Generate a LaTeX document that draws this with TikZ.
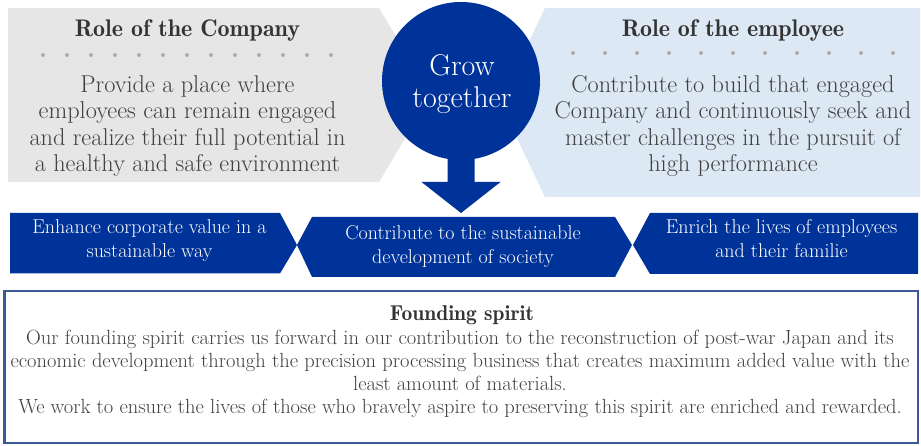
\documentclass[tikz,border=0pt]{standalone}
\usetikzlibrary{arrows.meta, positioning, calc}

\definecolor{growblue}{RGB}{0,51,153}
\definecolor{rolegray}{RGB}{230,230,230}
\definecolor{rolelblue}{RGB}{221,232,245}
\definecolor{dotgray}{RGB}{178,172,172}
\definecolor{textgray}{RGB}{64,64,64}
\definecolor{titlegray}{RGB}{51,51,51}
\definecolor{framecol}{RGB}{59,89,150}

\begin{document}
\begin{tikzpicture}[x=1pt, y=-1pt,
		roletitle/.style={anchor=base, inner sep=0pt, text=titlegray, font=\fontseries{b}\fontsize{24}{28}\selectfont},
		rolebody/.style={inner sep=0pt, align=center, text=textgray, font=\fontsize{24.3}{26.3}\selectfont},
		bandtext/.style={inner sep=0pt, align=center, text=white, font=\fontsize{20}{24}\selectfont},
		growcircle/.style={circle, fill=growblue, minimum size=158pt, inner sep=0pt},
		spirittext/.style={inner sep=0pt, align=center, text=textgray, font=\fontsize{20.5}{23}\selectfont}]
		
		\useasboundingbox (0,0) rectangle (921,446);
		
		% role panels
		\fill[rolegray] (8,8) -- (379,8) -- (431,95) -- (379,182) -- (8,182) -- cycle;
		\fill[rolelblue] (920,8) -- (545,8) -- (500,102.5) -- (545,197) -- (920,197) -- cycle;
		\foreach \i in {0,...,12} \fill[dotgray] (43+24*\i,55) circle[radius=2pt];
		\foreach \i in {0,...,10} \fill[dotgray] (573+32*\i,53) circle[radius=2pt];
		
		\node[roletitle] (companytitle) at (187.5,37) {Role of the Company};
		\node[rolebody] (companytext) at (187.5,126) {Provide a place where\\employees can remain engaged\\and realize their full potential in\\a healthy and safe environment};
		\node[roletitle] (employeetitle) at (733,37) {Role of the employee};
		\node[rolebody] (employeetext) at (733,126) {Contribute to build that engaged\\Company and continuously seek and\\master challenges in the pursuit of\\high performance};
		
		% grow together
		\node[growcircle] (grow) at (461,81) {};
		\node[inner sep=0pt, align=center, text=white, font=\fontsize{30}{32}\selectfont] (growtext) at (462,84) {Grow\\together};
		\coordinate (headtop) at (461,182);
		\coordinate (societytop) at (461,213);
		\fill[growblue] ($(grow.south)+(-13.5,-3)$) -- ($(headtop)+(-13.5,0)$) -- ($(headtop)+(-39.5,0)$) -- (societytop)
			-- ($(headtop)+(39.5,0)$) -- ($(headtop)+(13.5,0)$) -- ($(grow.south)+(13.5,-3)$) -- cycle;
		
		% band
		\fill[growblue] (10,213) -- (280,213) -- (297,245) -- (280,273.5) -- (10,273.5) -- cycle;
		\fill[growblue] (312,217) -- (615,217) -- (632,245) -- (615,277) -- (312,277) -- (297,245) -- cycle;
		\fill[growblue] (650,213) -- (918,213) -- (918,274) -- (650,274) -- (633,245) -- cycle;
		
		\node[bandtext] (corpvalue) at (149.5,240.5) {Enhance corporate value in a\\sustainable way};
		\node[bandtext] (society) at (463,247) {Contribute to the sustainable\\development of society};
		\node[bandtext] (families) at (781.5,239) {Enrich the lives of employees\\and their familie};
		
		% founding spirit
		\draw[framecol, line width=2.5pt] (4.25,291.25) rectangle (917.75,442.75);
		\node[roletitle, font=\fontseries{b}\fontsize{21.5}{23}\selectfont] (spirittitle) at (462,321) {Founding spirit};
		\node[spirittext] (spiritbody) at (460,374) {Our founding spirit carries us forward in our contribution to the reconstruction of post-war Japan and its\\economic development through the precision processing business that creates maximum added value with the\\least amount of materials.\\We work to ensure the lives of those who bravely aspire to preserving this spirit are enriched and rewarded.};
	\end{tikzpicture}
\end{document}
